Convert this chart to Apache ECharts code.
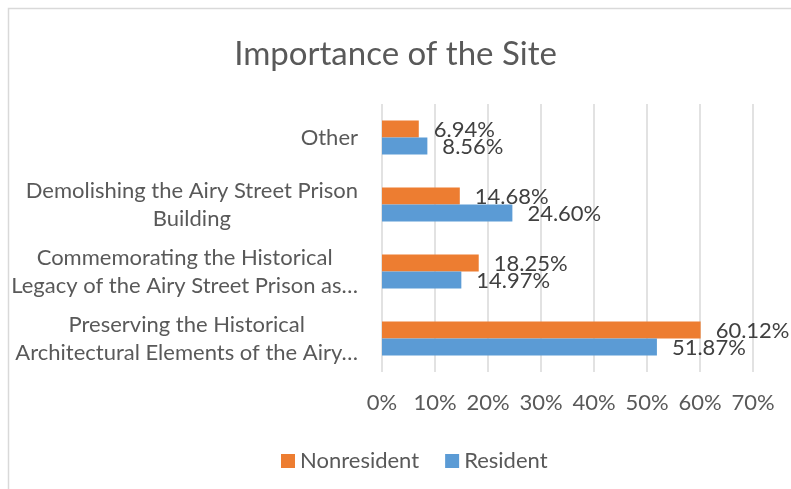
<!DOCTYPE html>
<html>
<head>
<meta charset="utf-8">
<script src="https://cdn.jsdelivr.net/npm/echarts@6/dist/echarts.min.js"></script>
<style>
  html, body { margin: 0; padding: 0; background: #fff; }
  #chart { width: 791px; height: 489px; }
</style>
</head>
<body>
<div id="chart"></div>
<script>
// categories, top to bottom
const categories = [
  ['Other'],
  ['Demolishing the Airy Street Prison', 'Building'],
  ['Commemorating the Historical', 'Legacy of the Airy Street Prison as…'],
  ['Preserving the Historical', 'Architectural Elements of the Airy…']
];
const nonresident = [6.94, 14.68, 18.25, 60.12];
const resident = [8.56, 24.60, 14.97, 51.87];
const xTicks = [0, 10, 20, 30, 40, 50, 60, 70];

const FONT = 'Lato';
const chart = echarts.init(document.getElementById('chart'));

const barLabel = {
  show: true, position: 'right', distance: 15, offset: [0, 1],
  fontFamily: FONT, fontSize: 22, color: '#404040',
  formatter: p => p.value.toFixed(2) + '%'
};

chart.setOption({
  animation: false,
  textStyle: { fontFamily: FONT },
  title: {
    text: 'Importance of the Site',
    left: 'center',
    top: 33,
    textStyle: { fontFamily: FONT, fontSize: 33, fontWeight: 'normal', color: '#595959' }
  },
  graphic: [{
    type: 'rect',
    shape: { x: 8.5, y: 8.5, width: 900, height: 600 },
    style: { fill: 'none', stroke: '#d9d9d9', lineWidth: 1.5 },
    silent: true
  }],
  legend: {
    data: ['Nonresident', 'Resident'],
    left: 276,
    top: 445,
    icon: 'rect',
    itemWidth: 14,
    itemHeight: 14,
    itemGap: 26,
    textStyle: { fontFamily: FONT, fontSize: 22, color: '#595959' }
  },
  grid: { left: 382, right: 38, top: 104, bottom: 117 },
  xAxis: {
    type: 'value',
    min: xTicks[0],
    max: xTicks[xTicks.length - 1],
    interval: 10,
    axisLine: { show: false },
    axisTick: { show: false },
    splitLine: { lineStyle: { color: '#d9d9d9', width: 1.5 } },
    axisLabel: {
      margin: 20,
      fontFamily: FONT,
      fontSize: 22,
      color: '#595959',
      formatter: v => v + '%'
    }
  },
  yAxis: {
    type: 'category',
    inverse: true,
    data: categories.map(c => c.join('\n')),
    axisLine: { show: false },
    axisTick: { show: false },
    axisLabel: {
      margin: 24,
      fontFamily: FONT,
      fontSize: 22,
      color: '#595959',
      formatter: v => v.split('\n').map(l => '{c|' + l + '}').join('\n'),
      rich: {
        c: { align: 'center', fontFamily: FONT, fontSize: 22, lineHeight: 28, color: '#595959' }
      }
    }
  },
  series: [
    {
      name: 'Nonresident',
      type: 'bar',
      data: nonresident,
      barWidth: 17,
      barGap: '0%',
      itemStyle: { color: '#ED7D31' },
      label: barLabel
    },
    {
      name: 'Resident',
      type: 'bar',
      data: resident,
      barWidth: 17,
      barGap: '0%',
      itemStyle: { color: '#5B9BD5' },
      label: barLabel
    }
  ]
});
</script>
</body>
</html>
